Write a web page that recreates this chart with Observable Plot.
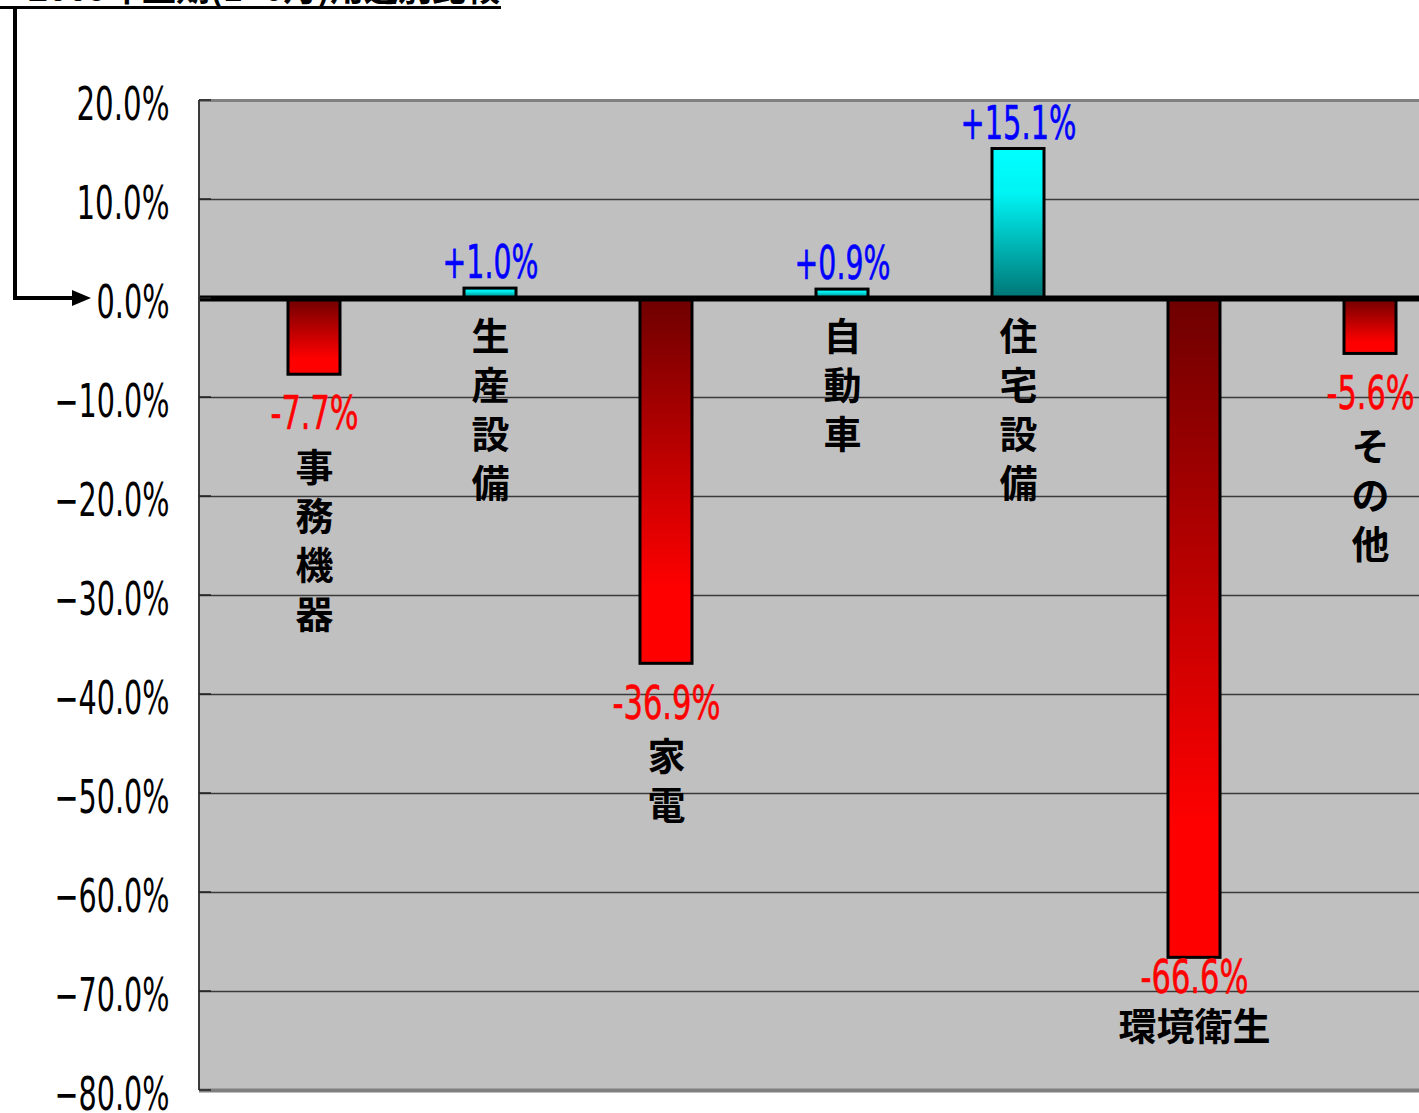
<!DOCTYPE html>
<html><head><meta charset="utf-8">
<script src="https://cdn.jsdelivr.net/npm/d3@7"></script>
<script src="https://cdn.jsdelivr.net/npm/@observablehq/plot@0.6"></script>
<style>
html,body{margin:0;padding:0;background:#fff;overflow:hidden;width:1419px;height:1113px;}
#chart svg{display:block;overflow:hidden;}
</style></head>
<body><div id="chart"></div>
<script>
const categories = ["事務機器","生産設備","家電","自動車","住宅設備","環境衛生","その他"];
const changes = [-7.7, 1.0, -36.9, 0.9, 15.1, -66.6, -5.6];
const yTicks = [20, 10, 0, -10, -20, -30, -40, -50, -60, -70, -80];
const titleText = "2009年上期(1~6月)用途別比較";

const rows = categories.map((c, i) => ({cat: c, value: changes[i]}));
const pos = rows.filter(d => d.value >= 0);
const neg = rows.filter(d => d.value < 0);

const W = 1419, H = 1113, mT = 100, mB = 23, mL = 199;
const yDomain = [-80, 20];
const ys = Plot.scale({y: {domain: yDomain, range: [H - mB, mT]}});
const lineStep = 49, valueGap = 40, tightGap = 20, catGap = 31;
const fitsVertically = d => ys.apply(d.value) + valueGap + catGap + d.cat.length * lineStep <= H - mB;
const negV = neg.filter(fitsVertically);
const negH = neg.filter(d => !fitsVertically(d));
const fmtVal = v => (v >= 0 ? "+" : "-") + Math.abs(v).toFixed(1) + "%";
const vert = d => Array.from(d.cat).join("\n");
const numFont = "'DejaVu Sans',sans-serif";
const cjk = "'Noto Sans CJK JP','Noto Sans CJK SC',sans-serif";
const numSize = 46;

const plot = Plot.plot({
  width: W, height: H,
  marginTop: mT, marginBottom: mB, marginLeft: mL, marginRight: 0,
  style: {fontFamily: numFont, background: "#fff", color: "#000"},
  x: {domain: categories, range: [199, 1485], paddingInner: 0.706, paddingOuter: 0.486, axis: null},
  y: {domain: yDomain, ticks: yTicks, axis: null},
  marks: [
    Plot.frame({fill: "#c0c0c0", stroke: "none"}),
    Plot.ruleY(yTicks.filter(t => t !== 0 && t !== 20 && t !== -80), {stroke: "#3a3a3a", strokeWidth: 1.3}),
    Plot.ruleY([20], {stroke: "#808080", strokeWidth: 3}),
    Plot.ruleY([-80], {stroke: "#808080", strokeWidth: 4}),
    Plot.axisY(yTicks, {tickSize: 0, tickPadding: 30, fontSize: numSize, dy: 5, fill: "#000", label: null,
      fontFamily: numFont, tickFormat: d => d3.format(".1f")(d) + "%"}),
    Plot.barY(pos, {x: "cat", y: "value", fill: "url(#gPos)", stroke: "#000", strokeWidth: 3}),
    Plot.barY(neg, {x: "cat", y: "value", fill: "url(#gNeg)", stroke: "#000", strokeWidth: 3}),
    Plot.ruleY([0], {stroke: "#000", strokeWidth: 6}),
    Plot.text(pos, {x: "cat", y: "value", text: d => fmtVal(d.value), dy: -25, fill: "#0000ff",
      stroke: "#0000ff", strokeWidth: 0.6, fontSize: numSize, fontFamily: numFont}),
    Plot.text(negV, {x: "cat", y: "value", text: d => fmtVal(d.value), dy: valueGap, fill: "#ff0000",
      stroke: "#ff0000", strokeWidth: 0.6, fontSize: numSize, fontFamily: numFont}),
    Plot.text(negH, {x: "cat", y: "value", text: d => fmtVal(d.value), dy: tightGap, fill: "#ff0000",
      stroke: "#ff0000", strokeWidth: 0.6, fontSize: numSize, fontFamily: numFont}),
    Plot.text(pos, {x: "cat", y: () => 0, text: vert, dy: 17, lineAnchor: "top", lineHeight: lineStep / 38,
      fontSize: 38, fontWeight: "bold", fontFamily: cjk, fill: "#000"}),
    Plot.text(negV, {x: "cat", y: "value", text: vert, dy: valueGap + catGap, lineAnchor: "top", lineHeight: lineStep / 38,
      fontSize: 38, fontWeight: "bold", fontFamily: cjk, fill: "#000"}),
    Plot.text(negH, {x: "cat", y: "value", text: "cat", dy: tightGap + 50,
      fontSize: 38, fontWeight: "bold", fontFamily: cjk, fill: "#000"})
  ]
});

const svg = d3.select(plot);

// narrow the numeric labels to match the condensed face of the original
const glyphW = {"−": 22, "+": 23, "-": 15, ".": 8, "%": 25};
svg.selectAll("text").each(function() {
  const t = this.textContent;
  if (/%$/.test(t) && this.childElementCount === 0) {
    const w = Array.from(t).reduce((s, ch) => s + (glyphW[ch] ?? 20), 0);
    this.setAttribute("textLength", w);
    this.setAttribute("lengthAdjust", "spacingAndGlyphs");
  }
});

const defs = svg.insert("defs", ":first-child");
const gp = defs.append("linearGradient").attr("id", "gPos").attr("x1", 0).attr("y1", 0).attr("x2", 0).attr("y2", 1);
gp.append("stop").attr("offset", 0).attr("stop-color", "#00ffff");
gp.append("stop").attr("offset", 0.3).attr("stop-color", "#00f4f4");
gp.append("stop").attr("offset", 1).attr("stop-color", "#007575");
const gn = defs.append("linearGradient").attr("id", "gNeg").attr("x1", 0).attr("y1", 0).attr("x2", 0).attr("y2", 1);
gn.append("stop").attr("offset", 0).attr("stop-color", "#6e0000");
gn.append("stop").attr("offset", 0.8).attr("stop-color", "#ff0000");
gn.append("stop").attr("offset", 1).attr("stop-color", "#ff0000");

const y = plot.scale("y");
const y0 = y.apply(0), yTop = y.apply(20), yBot = y.apply(-80);
svg.append("line").attr("x1", mL).attr("x2", mL).attr("y1", yTop).attr("y2", yBot)
  .attr("stroke", "#3a3a3a").attr("stroke-width", 2);
yTicks.forEach(t => svg.append("line").attr("x1", mL).attr("x2", mL + 12)
  .attr("y1", y.apply(t)).attr("y2", y.apply(t)).attr("stroke", "#222").attr("stroke-width", 1.5));

// title (cut off at the top edge) with underline
svg.append("text").attr("x", 500).attr("y", 1).attr("text-anchor", "end")
  .attr("font-family", cjk).attr("font-weight", "bold").attr("font-size", 34).attr("fill", "#000").text(titleText);
svg.append("line").attr("x1", 0).attr("x2", 501).attr("y1", 7.5).attr("y2", 7.5).attr("stroke", "#000").attr("stroke-width", 3);

// arrow from title down to the 0.0% line
svg.append("path").attr("d", `M15,7 V${y0} H74`).attr("fill", "none").attr("stroke", "#000").attr("stroke-width", 4);
svg.append("path").attr("d", `M72,${y0 - 8} L91,${y0} L72,${y0 + 8} Z`).attr("fill", "#000");

document.getElementById("chart").appendChild(plot);
</script>
</body></html>
